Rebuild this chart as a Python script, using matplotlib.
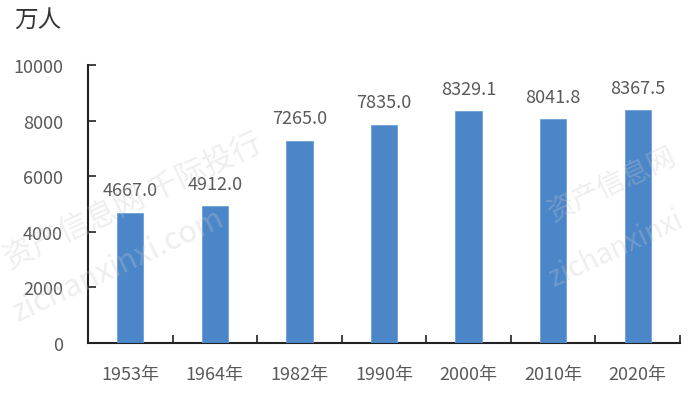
import matplotlib.pyplot as plt
import numpy as np

plt.rcParams['font.family'] = ['Noto Sans CJK SC', 'DejaVu Sans']

# data (unit: 万人)
years = ['1953年', '1964年', '1982年', '1990年', '2000年', '2010年', '2020年']
population = [4667.0, 4912.0, 7265.0, 7835.0, 8329.1, 8041.8, 8367.5]
y_ticks = [0, 2000, 4000, 6000, 8000, 10000]

bar_color = '#4A86C8'
text_color = '#595959'

fig = plt.figure(figsize=(7, 4.02), dpi=100)
ax = fig.add_axes([0.1257, 0.1443, 0.8457, 0.6915])

x = np.arange(len(years))
bars = ax.bar(x, population, width=0.31, color=bar_color, edgecolor='#6FA0D8', linewidth=0.6, zorder=3)

# value labels above bars
ax.bar_label(bars, labels=[f'{v:.1f}' for v in population], padding=10,
             color=text_color, fontsize=13)

ax.set_xlim(-0.5, len(years) - 0.5)
ax.set_ylim(0, 10000)
ax.set_yticks(y_ticks)
ax.set_yticklabels([str(t) for t in y_ticks], color=text_color, fontsize=13)
ax.set_xticks(x)
ax.set_xticklabels(years, color=text_color, fontsize=13)
ax.set_xticks(np.arange(len(years)) + 0.5, minor=True)

ax.tick_params(axis='y', direction='in', length=6, width=1.2, color='#222222', pad=18)
ax.tick_params(axis='x', which='major', length=0, pad=16)
ax.tick_params(axis='x', which='minor', direction='in', length=6, width=1.2, color='#222222')

for side in ['top', 'right']:
    ax.spines[side].set_visible(False)
for side in ['left', 'bottom']:
    ax.spines[side].set_color('#222222')
    ax.spines[side].set_linewidth(1.5)

# unit label
fig.text(0.02, 0.95, '万人', fontsize=17, color='#333333', ha='left', va='center')

# faint watermarks
wm = dict(color='#C8C8C8', alpha=0.3, rotation=25, ha='center', va='center', zorder=0)
fig.text(0.19, 0.50, '资产信息网 千际投行', fontsize=22, **wm)
fig.text(0.17, 0.34, 'zichanxinxi.com', fontsize=22, **wm)
fig.text(0.875, 0.54, '资产信息网', fontsize=20, **wm)
fig.text(0.88, 0.38, 'zichanxinxi', fontsize=20, **wm)

fig.savefig('out.png', dpi=100)
